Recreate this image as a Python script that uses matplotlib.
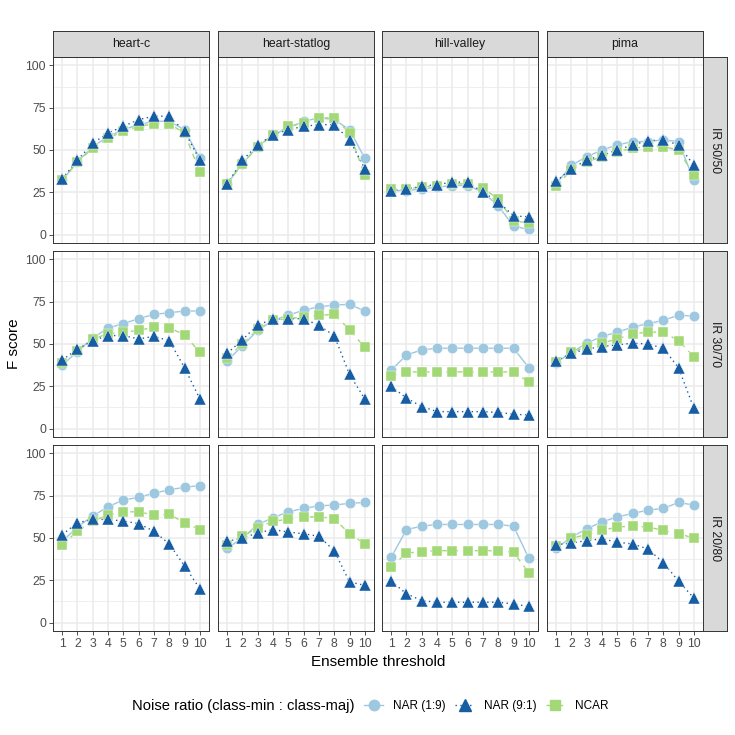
import numpy as np
import matplotlib.pyplot as plt
from matplotlib.lines import Line2D

plt.rcParams['font.family'] = ['Liberation Sans', 'DejaVu Sans']

datasets = ['heart-c', 'heart-statlog', 'hill-valley', 'pima']
ratios = ['IR 50/50', 'IR 30/70', 'IR 20/80']
thresholds = list(range(1, 11))
noise_labels = ['NAR (1:9)', 'NAR (9:1)', 'NCAR']

# F scores per dataset (order of `datasets`), thresholds 1..10
nar19_50 = [
    [32, 43, 52, 58, 62, 65, 67, 67, 62, 45],
    [30, 42, 52, 59, 63, 67, 69, 68, 62, 45],
    [26, 26, 27, 28, 29, 29, 25, 17, 5, 3],
    [30, 41, 46, 50, 53, 55, 55, 56, 55, 32],
]
nar91_50 = [
    [33, 44, 54, 60, 64, 68, 70, 70, 61, 44],
    [30, 44, 53, 59, 62, 64, 65, 65, 56, 39],
    [26, 27, 28.5, 29.5, 31, 31, 25, 19.5, 11, 10.5],
    [31.5, 39, 44, 47, 50, 53, 55.5, 56, 53, 41],
]
ncar_50 = [
    [32, 43, 51, 57, 61, 64, 65.5, 65.5, 60, 37],
    [30, 42, 52, 59, 64, 66, 69, 69, 60, 35],
    [27, 27, 28, 29, 30, 30, 27.5, 21, 8, 7],
    [29, 38, 43, 46, 49, 51, 52, 52, 50, 35],
]

nar19_30 = [
    [37.5, 45.5, 53.5, 59.5, 62, 65, 67.5, 68.5, 69.5, 69.5],
    [40, 49, 58, 64, 67, 70, 72, 73, 73.5, 69.5],
    [34.5, 43.5, 46.5, 47.5, 47.5, 47.5, 47.5, 47.5, 47.5, 36],
    [39, 45, 50.5, 54.5, 57, 60, 62, 64, 67, 66.5],
]
nar91_30 = [
    [40.5, 47, 52, 55, 55, 53, 54.5, 52, 36, 17.5],
    [44.5, 52.5, 61.5, 64.5, 65, 65, 61, 55, 32, 17.5],
    [25, 18, 13, 10, 10, 10, 10, 9.5, 8.5, 8],
    [40, 44.5, 47, 48.5, 49.5, 50.5, 50, 47.5, 36, 12],
]
ncar_30 = [
    [39, 46, 53, 56, 57, 58, 60, 59.5, 55.5, 45],
    [42, 50, 59, 64, 65, 66, 67, 67.5, 58.5, 48],
    [31, 33.5, 33.5, 33.5, 33.5, 33.5, 33.5, 33.5, 33.5, 27.5],
    [39.5, 45, 48.5, 50.5, 53, 56, 57, 57, 52, 42.5],
]

nar19_20 = [
    [48, 56.5, 63, 68.5, 72.5, 74, 76.5, 78.5, 80, 81],
    [44, 50, 58, 62, 65.5, 67.5, 69, 69.5, 70.5, 71],
    [38.5, 55, 57, 58, 58, 58, 58, 58, 57, 38],
    [44, 50.5, 55.5, 59.5, 62.5, 64.5, 66.5, 67.5, 71, 69.5],
]
nar91_20 = [
    [52, 59, 61, 61, 60, 58.5, 54, 46.5, 33.5, 20],
    [48, 50, 53, 55, 53.5, 52.5, 51, 42.5, 24, 22],
    [24.5, 17, 13, 12, 12, 12, 12, 12, 11, 9.5],
    [46, 47, 48.5, 49.5, 47.5, 46.5, 43.5, 35.5, 24.5, 14.5],
]
ncar_20 = [
    [46, 54, 60, 63.5, 65.5, 65.5, 63.5, 64, 59, 55],
    [46, 51, 56, 60, 61, 62.5, 62.5, 61.5, 52.5, 46.5],
    [33, 41, 42, 42.5, 42.5, 42.5, 42.5, 42.5, 41.5, 29.5],
    [45, 50, 52, 54.5, 56.5, 57, 56.5, 54.5, 52.5, 50],
]

rows = [
    (nar19_50, nar91_50, ncar_50),
    (nar19_30, nar91_30, ncar_30),
    (nar19_20, nar91_20, ncar_20),
]

colors = ['#9DC8E0', '#175DA3', '#A2D875']
markers = ['o', '^', 's']
msizes = [7.5, 8.5, 7]
lstyles = ['-', (0, (1, 2.5)), (0, (4, 4))]
draw_order = [0, 2, 1]

W = H = 735.0
fig = plt.figure(figsize=(7.35, 7.35), dpi=100)


def rect(left, top, w, h):
    return [left / W, 1 - (top + h) / H, w / W, h / H]


col_left = [53, 218, 382, 547]
row_top = [57, 251, 445]
pw, ph = 156, 186
edge = '#333333'

for r in range(3):
    for c in range(4):
        ax = fig.add_axes(rect(col_left[c], row_top[r], pw, ph))
        ax.set_xlim(0.4, 10.6)
        ax.set_ylim(-5, 105)
        ax.set_xticks(thresholds)
        ax.set_yticks([0, 25, 50, 75, 100])
        ax.set_yticks([12.5, 37.5, 62.5, 87.5], minor=True)
        ax.set_axisbelow(True)
        ax.grid(which='major', color='#EBEBEB', lw=1.1)
        ax.grid(which='minor', axis='y', color='#EBEBEB', lw=0.55)
        ax.tick_params(which='minor', length=0)
        ax.tick_params(which='major', length=3, width=0.6, color=edge,
                       labelsize=8.8, labelcolor='#4D4D4D', pad=2)
        if c != 0:
            ax.tick_params(axis='y', length=0, labelleft=False)
        if r != 2:
            ax.tick_params(axis='x', length=0, labelbottom=False)
        for s in ax.spines.values():
            s.set_color(edge)
            s.set_linewidth(0.7)
        series = rows[r]
        for k in draw_order:
            ax.plot(thresholds, series[k][c], color=colors[k], ls=lstyles[k],
                    lw=1.0, zorder=2)
        for k in draw_order:
            ax.plot(thresholds, series[k][c], ls='none', marker=markers[k],
                    ms=msizes[k], color=colors[k], mec='white', mew=0.3, zorder=3)

# strips
for c in range(4):
    sa = fig.add_axes(rect(col_left[c], 31, pw, 26))
    sa.set_facecolor('#D9D9D9')
    sa.set_xticks([]); sa.set_yticks([])
    for s in sa.spines.values():
        s.set_color(edge); s.set_linewidth(0.7)
    sa.text(0.5, 0.5, datasets[c], ha='center', va='center', fontsize=8.8,
            color='#1A1A1A', transform=sa.transAxes)
for r in range(3):
    sa = fig.add_axes(rect(703, row_top[r], 24, ph))
    sa.set_facecolor('#D9D9D9')
    sa.set_xticks([]); sa.set_yticks([])
    for s in sa.spines.values():
        s.set_color(edge); s.set_linewidth(0.7)
    sa.text(0.5, 0.5, ratios[r], ha='center', va='center', fontsize=8.8,
            color='#1A1A1A', rotation=-90, transform=sa.transAxes)

fig.text(14 / W, 1 - 344 / H, 'F score', rotation=90, ha='center', va='center',
         fontsize=11)
fig.text(378 / W, 1 - 662 / H, 'Ensemble threshold', ha='center', va='center',
         fontsize=11)

# legend
fig.text(132 / W, 1 - 706 / H, 'Noise ratio (class-min : class-maj)',
         ha='left', va='center', fontsize=10.6)
handles = [Line2D([], [], color=colors[k], ls=lstyles[k], lw=1.0,
                  marker=markers[k], ms=msizes[k]) for k in range(3)]
fig.legend(handles, noise_labels, loc='center left',
           bbox_to_anchor=(364 / W, 1 - 706 / H), ncol=3, frameon=False,
           fontsize=8.5, handlelength=1.64, handletextpad=0.8,
           columnspacing=0.8, borderpad=0, borderaxespad=0)

fig.savefig('out.png', dpi=100, facecolor='white')
